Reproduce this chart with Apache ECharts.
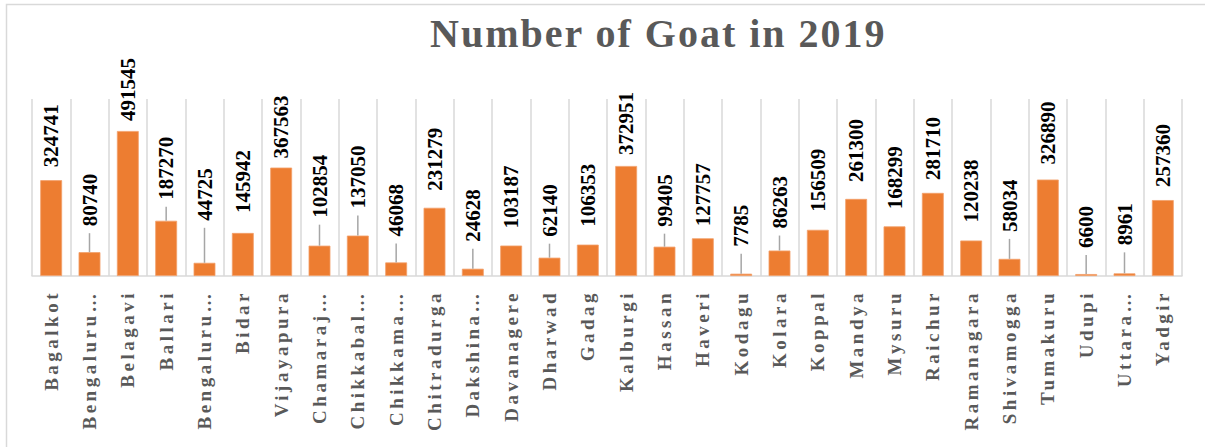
<!DOCTYPE html>
<html><head><meta charset="utf-8">
<script src="https://cdn.jsdelivr.net/npm/echarts@6/dist/echarts.min.js"></script>
<style>
html,body{margin:0;padding:0;background:#fff;}
#chart{width:1205px;height:447px;}
#chart text[style*="19px"]{letter-spacing:3.5px;}
#chart text[style*="40px"]{letter-spacing:2px;}
</style></head><body><div id="chart"></div>
<script>
// ---- data ----
const categories = ['Bagalkot','Bengaluru Rural','Belagavi','Ballari','Bengaluru Urban','Bidar','Vijayapura','Chamarajanagar','Chikkaballapur','Chikkamagaluru','Chitradurga','Dakshina Kannada','Davanagere','Dharwad','Gadag','Kalburgi','Hassan','Haveri','Kodagu','Kolara','Koppal','Mandya','Mysuru','Raichur','Ramanagara','Shivamogga','Tumakuru','Udupi','Uttara Kannada','Yadgir'];
const goatCounts = [324741,80740,491545,187270,44725,145942,367563,102854,137050,46068,231279,24628,103187,62140,106353,372951,99405,127757,7785,86263,156509,261300,168299,281710,120238,58034,326890,6600,8961,257360];
const titleText = 'Number of Goat in 2019';
const yMin = 0, yMax = 600000;

// ---- label layout (pixel gap between bar top and its value label; leader line flags) ----
const labelGap = [13,26,10,21,42,20,9,28,27,26,17,27,17,21,18,11,20,12,27,22,18,17,17,13,18,27,15,26,28,13];
const hasLeader = [0,1,0,1,1,0,0,1,1,1,0,1,0,1,0,0,1,0,1,1,0,0,0,0,0,1,0,1,1,0];

const serif = '"Times New Roman", "Liberation Serif", serif';
const ctx = document.createElement('canvas').getContext('2d');
ctx.font = 'bold 19px ' + serif;
const maxW = 106;
function fit(s){ return ctx.measureText(s).width <= maxW; }
function truncName(name){
  if (fit(name)) return name;
  if (name.indexOf(' ') > 0) return name.split(' ')[0] + '…';
  let s = name;
  while (s.length > 1 && !fit(s + '…')) s = s.slice(0, -1);
  return s + '…';
}

const chart = echarts.init(document.getElementById('chart'), null, {renderer:'svg'});
chart.setOption({
  animation: false,
  title: {
    text: titleText, left: 425, top: 8,
    textStyle: {fontFamily:serif, fontSize:40, fontWeight:'bold', color:'#595959'}
  },
  graphic: [{type:'rect', silent:true, shape:{x:6.5, y:4.5, width:1220, height:460},
    style:{fill:'none', stroke:'#D9D9D9', lineWidth:1.5}}],
  grid: {left:32, right:23, top:99, bottom:171, containLabel:false, outerBoundsMode:'none'},
  xAxis: {
    type:'category', data: categories,
    axisLine:{lineStyle:{color:'#D9D9D9', width:1.5}},
    axisTick:{show:false},
    splitLine:{show:true, interval:0, lineStyle:{color:'#D9D9D9', width:1.5}},
    axisLabel:{interval:0, rotate:90, margin:14, fontFamily:serif, fontSize:19,
      fontWeight:'bold', color:'#595959', formatter: truncName}
  },
  yAxis: {type:'value', min:yMin, max:yMax, show:false, splitLine:{show:false}},
  series: [{
    type:'bar', barCategoryGap:'43%',
    itemStyle:{color:'#ED7D31', borderColor:'#F3A06A', borderWidth:0.8},
    data: goatCounts.map((v,i)=>({value:v, label:{distance:labelGap[i]}})),
    label:{show:true, position:'top', rotate:90, align:'left', verticalAlign:'middle',
      fontFamily:serif, fontSize:21, fontWeight:'bold', color:'#000'},
    z:2
  },{
    type:'custom', silent:true, z:3,
    data: goatCounts.map((v,i)=>[i,v]),
    renderItem(params, api){
      const i = api.value(0);
      if (!hasLeader[i]) return null;
      const p = api.coord([i, api.value(1)]);
      return {type:'line', shape:{x1:p[0], y1:p[1], x2:p[0], y2:p[1]-labelGap[i]+7},
        style:{stroke:'#A6A6A6', lineWidth:1.5}};
    }
  }]
});
</script></body></html>
